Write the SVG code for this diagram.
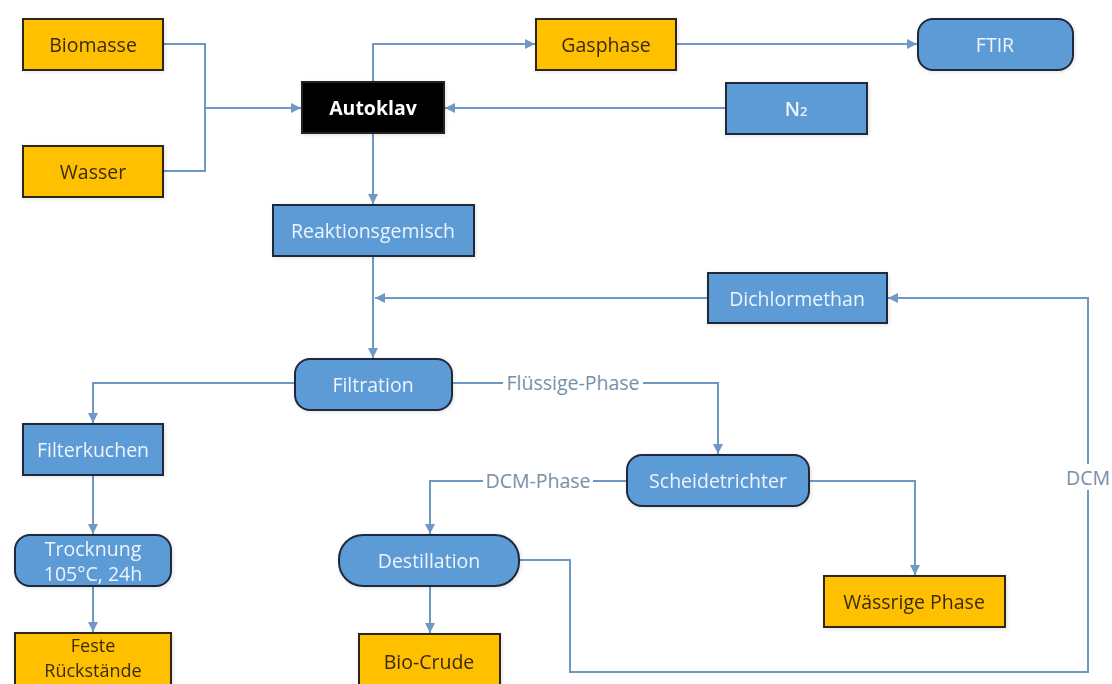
<svg xmlns="http://www.w3.org/2000/svg" width="1112" height="684" viewBox="0 0 1112 684">
  <defs>
    <marker id="arrow" viewBox="0 0 10 10" refX="10" refY="5" markerWidth="5" markerHeight="5" orient="auto" markerUnits="strokeWidth">
      <path d="M0,0 L10,5 L0,10 z" fill="#6f98c4"/>
    </marker>
    <filter id="soft" x="-10%" y="-20%" width="120%" height="140%">
      <feGaussianBlur in="SourceAlpha" stdDeviation="2"/>
      <feOffset dx="1" dy="1"/>
      <feComponentTransfer><feFuncA type="linear" slope="0.12"/></feComponentTransfer>
      <feMerge><feMergeNode/><feMergeNode in="SourceGraphic"/></feMerge>
    </filter>
  </defs>
  <style>
    .bg { fill: #ffffff; }
    .orange { fill: #ffc000; stroke: #2e2615; stroke-width: 2; }
    .blue { fill: #5b9bd5; stroke: #1e2a3b; stroke-width: 2; }
    .black { fill: #000000; stroke: #222222; stroke-width: 2; }
    .t { font-family: "Open Sans", "Noto Sans", sans-serif; font-size: 19.5px; text-anchor: middle; dominant-baseline: central; }
    .small { font-size: 18px; }
    .to { fill: #3a2a10; }
    .tb { fill: #eef4fb; }
    .tw { fill: #ffffff; font-weight: bold; }
    .edge { fill: none; stroke: #6f98c4; stroke-width: 2; }
    .lbl { font-family: "Open Sans", "Noto Sans", sans-serif; font-size: 19.5px; fill: #7890a8; dominant-baseline: central; text-anchor: middle; }
  </style>

  <rect class="bg" x="0" y="0" width="1112" height="684"/>

  <!-- connectors -->
  <g id="connectors">
    <path class="edge" d="M163,44 H205 V171 H163"/>
    <path class="edge" d="M205,108 H301" marker-end="url(#arrow)"/>
    <path class="edge" d="M726,108 H445" marker-end="url(#arrow)"/>
    <path class="edge" d="M373,82 V44 H535" marker-end="url(#arrow)"/>
    <path class="edge" d="M676,44 H917" marker-end="url(#arrow)"/>
    <path class="edge" d="M373,133 V204" marker-end="url(#arrow)"/>
    <path class="edge" d="M373,256 V358" marker-end="url(#arrow)"/>
    <path class="edge" d="M708,298 H375" marker-end="url(#arrow)"/>
    <path class="edge" d="M519,560 H570 V672 H1088 V490"/>
    <path class="edge" d="M1088,464 V298 H888" marker-end="url(#arrow)"/>
    <text class="lbl" x="1088" y="477">DCM</text>
    <path class="edge" d="M295,383 H93 V423" marker-end="url(#arrow)"/>
    <path class="edge" d="M452,383 H503"/>
    <text class="lbl" x="573" y="382">Flüssige-Phase</text>
    <path class="edge" d="M643,383 H718 V454" marker-end="url(#arrow)"/>
    <path class="edge" d="M627,481 H593"/>
    <text class="lbl" x="538" y="480">DCM-Phase</text>
    <path class="edge" d="M483,481 H430 V534" marker-end="url(#arrow)"/>
    <path class="edge" d="M809,481 H915 V575" marker-end="url(#arrow)"/>
    <path class="edge" d="M93,475 V534" marker-end="url(#arrow)"/>
    <path class="edge" d="M93,586 V632" marker-end="url(#arrow)"/>
    <path class="edge" d="M430,586 V633" marker-end="url(#arrow)"/>
  </g>

  <!-- nodes -->
  <g id="biomasse" filter="url(#soft)">
    <rect class="orange" x="23" y="19" width="140" height="51"/>
    <text class="t to" x="93" y="44">Biomasse</text>
  </g>
  <g id="wasser" filter="url(#soft)">
    <rect class="orange" x="23" y="146" width="140" height="51"/>
    <text class="t to" x="93" y="171">Wasser</text>
  </g>
  <g id="autoklav" filter="url(#soft)">
    <rect class="black" x="302" y="82" width="142" height="51"/>
    <text class="t tw" x="373" y="107">Autoklav</text>
  </g>
  <g id="gasphase" filter="url(#soft)">
    <rect class="orange" x="536" y="19" width="140" height="51"/>
    <text class="t to" x="606" y="44">Gasphase</text>
  </g>
  <g id="ftir" filter="url(#soft)">
    <rect class="blue" x="918" y="19" width="155" height="51" rx="15"/>
    <text class="t tb" x="995" y="44">FTIR</text>
  </g>
  <g id="n2" filter="url(#soft)">
    <rect class="blue" x="726" y="83" width="141" height="51"/>
    <text class="t tb" x="796" y="108" font-weight="600">N<tspan font-size="13" dy="3">2</tspan></text>
  </g>
  <g id="reaktionsgemisch" filter="url(#soft)">
    <rect class="blue" x="273" y="205" width="201" height="51"/>
    <text class="t tb" x="373" y="230">Reaktionsgemisch</text>
  </g>
  <g id="dichlormethan" filter="url(#soft)">
    <rect class="blue" x="708" y="273" width="179" height="50"/>
    <text class="t tb" x="797" y="298">Dichlormethan</text>
  </g>
  <g id="filtration" filter="url(#soft)">
    <rect class="blue" x="295" y="359" width="157" height="51" rx="15"/>
    <text class="t tb" x="373" y="384">Filtration</text>
  </g>
  <g id="filterkuchen" filter="url(#soft)">
    <rect class="blue" x="23" y="424" width="140" height="51"/>
    <text class="t tb" x="93" y="449">Filterkuchen</text>
  </g>
  <g id="scheidetrichter" filter="url(#soft)">
    <rect class="blue" x="627" y="455" width="182" height="51" rx="15"/>
    <text class="t tb" x="718" y="480">Scheidetrichter</text>
  </g>
  <g id="trocknung" filter="url(#soft)">
    <rect class="blue" x="15" y="535" width="156" height="51" rx="15"/>
    <text class="t tb" x="93" y="548">Trocknung</text>
    <text class="t tb" x="93" y="573">105°C, 24h</text>
  </g>
  <g id="destillation" filter="url(#soft)">
    <rect class="blue" x="339" y="535" width="180" height="51" rx="24"/>
    <text class="t tb" x="429" y="560">Destillation</text>
  </g>
  <g id="waessrige-phase" filter="url(#soft)">
    <rect class="orange" x="824" y="576" width="181" height="51"/>
    <text class="t to" x="914" y="601">Wässrige Phase</text>
  </g>
  <g id="feste-rueckstaende" filter="url(#soft)">
    <rect class="orange" x="15" y="633" width="156" height="60"/>
    <text class="t small to" x="93" y="645">Feste</text>
    <text class="t small to" x="93" y="670">Rückstände</text>
  </g>
  <g id="bio-crude" filter="url(#soft)">
    <rect class="orange" x="359" y="634" width="141" height="60"/>
    <text class="t to" x="429" y="661">Bio-Crude</text>
  </g>
</svg>
